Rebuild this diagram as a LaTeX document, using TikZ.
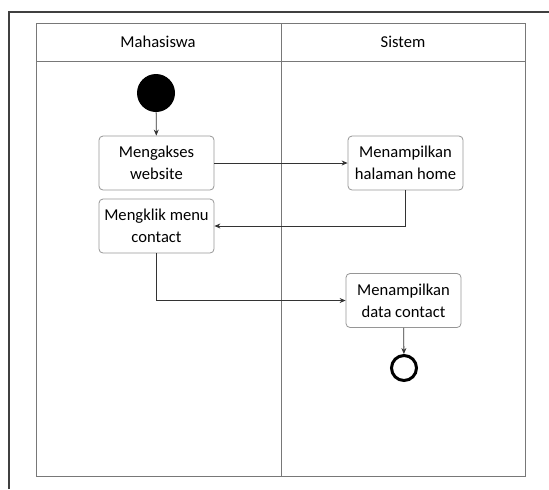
\documentclass[tikz,border=0pt]{standalone}
\usepackage{fontspec}
\setmainfont{Carlito}
\usetikzlibrary{shapes,arrows.meta,positioning,calc}
\definecolor{lanegray}{RGB}{120,120,120}
\definecolor{boxgray}{RGB}{150,150,150}

\begin{document}
\begin{tikzpicture}[x=0.5pt, y=-0.5pt,
    act/.style={draw=boxgray, rectangle, rounded corners=2pt, minimum width=57.5pt, minimum height=27pt, align=center, inner sep=1pt, font=\fontsize{8.3}{11}\selectfont},
    lanetitle/.style={font=\fontsize{8.3}{11}\selectfont},
    flow/.style={-{Stealth[length=3pt,width=2.5pt]}, draw=black!80, line width=0.4pt}]
    \useasboundingbox (0,0) rectangle (549,489);
    % frame and swimlanes
    \draw[line width=1pt, black!75] (9,489) -- (9,12) -- (549,12);
    \draw[lanegray, line width=0.5pt] (36,23) rectangle (281,476);
    \draw[lanegray, line width=0.5pt] (281,23) rectangle (525,476);
    \draw[lanegray, line width=0.5pt] (36,61) -- (525,61);
    \node[lanetitle] (mhs) at (158,42) {Mahasiswa};
    \node[lanetitle] (sis) at (403,42) {Sistem};

    \node[circle, fill=black, minimum size=19pt, inner sep=0pt] (start) at (156,93) {};
    \node[act] (akses) at (156.5,163) {Mengakses\\website};
    \node[act] (home) at (405.5,163) {Menampilkan\\halaman home};
    \node[act] (klik) at (156.5,226) {Mengklik menu\\contact};
    \node[act] (data) at (403.5,300.5) {Menampilkan\\data contact};
    \node[circle, draw, line width=1.5pt, minimum size=12.5pt, inner sep=0pt] (end) at (404,368) {};

    \draw[flow] (start) -- (akses);
    \draw[flow] (akses) -- (home);
    \draw[flow] (home.south) |- (klik.east);
    \draw[flow] (klik.south) |- (data.west);
    \draw[flow] (data) -- (end);
\end{tikzpicture}
\end{document}
